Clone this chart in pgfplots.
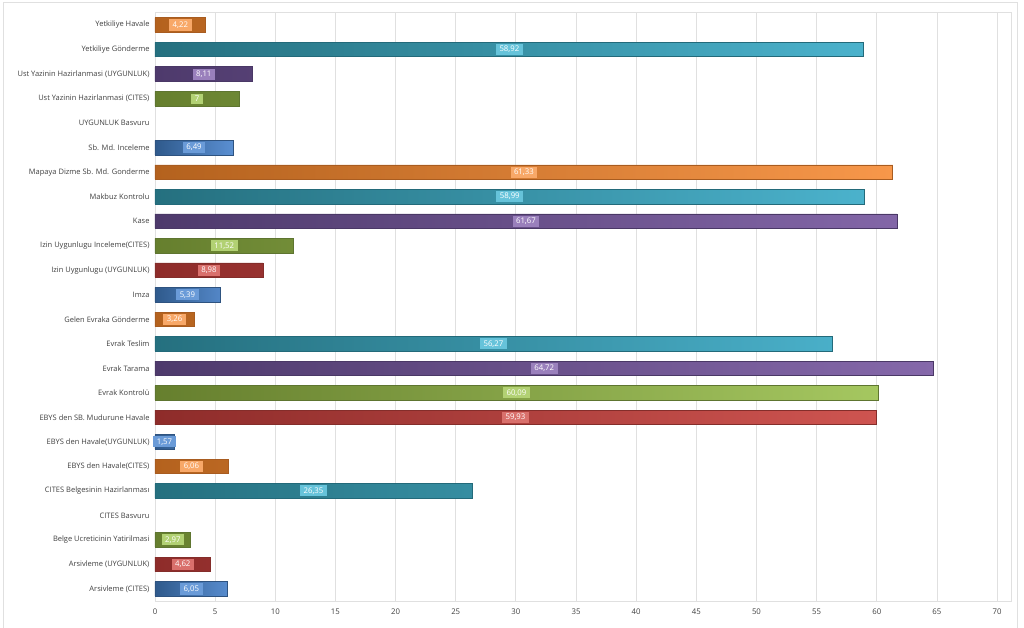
\documentclass[border=0pt]{standalone}
\usepackage{pgfplots}
\usepackage{pgfplotstable}
\pgfplotsset{compat=1.18}
\usepackage{fontspec}
\setmainfont{Open Sans}

\definecolor{bD}{HTML}{2F5A8C}\definecolor{bL}{HTML}{5A8FD2}\definecolor{bB}{HTML}{2E5380}\definecolor{bT}{HTML}{6A9BD8}
\definecolor{rD}{HTML}{8E2C2A}\definecolor{rL}{HTML}{CE5450}\definecolor{rB}{HTML}{842D2A}\definecolor{rT}{HTML}{D9706C}
\definecolor{gD}{HTML}{667F2E}\definecolor{gL}{HTML}{A5C760}\definecolor{gB}{HTML}{5E7530}\definecolor{gT}{HTML}{B2D173}
\definecolor{pD}{HTML}{4E3A6C}\definecolor{pL}{HTML}{8568AA}\definecolor{pB}{HTML}{4A3866}\definecolor{pT}{HTML}{9A80BC}
\definecolor{tD}{HTML}{25707F}\definecolor{tL}{HTML}{4BB2CC}\definecolor{tB}{HTML}{236A7A}\definecolor{tT}{HTML}{66C3DA}
\definecolor{oD}{HTML}{B4621E}\definecolor{oL}{HTML}{F7974A}\definecolor{oB}{HTML}{A85C20}\definecolor{oT}{HTML}{F8A868}
\definecolor{gridc}{HTML}{E0E0E0}
\definecolor{txt}{HTML}{404040}

% series grouped by colour (y = category index, 0 = bottom)
\pgfplotstableread{
y v
0 6.05
6 1.57
12 5.39
18 6.49
}\tblblue
\pgfplotstableread{
y v
1 4.62
7 59.93
13 8.98
}\tblred
\pgfplotstableread{
y v
2 2.97
8 60.09
14 11.52
20 7
}\tblgreen
\pgfplotstableread{
y v
9 64.72
15 61.67
21 8.11
}\tblpurple
\pgfplotstableread{
y v
4 26.35
10 56.27
16 58.99
22 58.92
}\tblteal
\pgfplotstableread{
y v
5 6.06
11 3.26
17 61.33
23 4.22
}\tblorange

\pgfplotsset{
  mybar/.style n args={3}{xbar, bar width=14.5pt, bar shift=0pt, draw=#1, line width=0.6pt, left color=#2, right color=#3},
  mylab/.style={draw=none, mark=none, forget plot, nodes near coords, point meta=explicit,
    nodes near coords align={center},
    every node near coord/.append style={fill=#1, text=white, font=\fontsize{7.8}{9}\selectfont, inner xsep=3.5pt, inner ysep=2.2pt, anchor=center}},
}

\begin{document}
\begin{tikzpicture}[x=1pt,y=1pt]
\useasboundingbox (-155,-26) rectangle (869,601);
\draw[gridc, line width=0.8pt] (-152,-30) -- (-152,599) -- (862,599) -- (862,-30);
\begin{axis}[
  at={(0,0)}, anchor=south west,
  scale only axis, width=856pt, height=589pt,
  xmin=0, xmax=71.16, ymin=-0.49, ymax=23.53,
  xtick={0,5,...,70},
  ytick={0,...,23},
  yticklabels={Arsivleme (CITES),Arsivleme (UYGUNLUK),Belge Ucreticinin Yatirilmasi,CITES Basvuru,CITES Belgesinin Hazirlanması,EBYS den Havale(CITES),EBYS den Havale(UYGUNLUK),EBYS den SB. Mudurune Havale,Evrak Kontrolü,Evrak Tarama,Evrak Teslim,Gelen Evraka Gönderme,Imza,Izin Uygunlugu (UYGUNLUK),Izin Uygunlugu Inceleme(CITES),Kase,Makbuz Kontrolu,Mapaya Dizme Sb. Md. Gonderme,Sb. Md. Inceleme,UYGUNLUK Basvuru,Ust Yazinin Hazirlanmasi (CITES),Ust Yazinin Hazirlanmasi (UYGUNLUK),Yetkiliye Gönderme,Yetkiliye Havale},
  xmajorgrids, major grid style={gridc, line width=0.8pt},
  axis line style={gridc, line width=0.8pt},
  major tick length=0pt,
  tick label style={text=txt},
  yticklabel style={font=\fontsize{7.5}{9}\selectfont, xshift=-2pt},
  xticklabel style={font=\fontsize{7.8}{9}\selectfont, yshift=-4pt},
  /pgf/number format/assume math mode=true,
  /pgf/number format/use comma,
  /pgf/number format/1000 sep={},
  clip=false,
]
\addplot[mybar={bB}{bD}{bL}] table[x=v,y=y] {\tblblue};
\addplot[mybar={rB}{rD}{rL}] table[x=v,y=y] {\tblred};
\addplot[mybar={gB}{gD}{gL}] table[x=v,y=y] {\tblgreen};
\addplot[mybar={pB}{pD}{pL}] table[x=v,y=y] {\tblpurple};
\addplot[mybar={tB}{tD}{tL}] table[x=v,y=y] {\tblteal};
\addplot[mybar={oB}{oD}{oL}] table[x=v,y=y] {\tblorange};

\addplot[mylab=bT] table[x expr=\thisrow{v}/2,y=y,meta=v] {\tblblue};
\addplot[mylab=rT] table[x expr=\thisrow{v}/2,y=y,meta=v] {\tblred};
\addplot[mylab=gT] table[x expr=\thisrow{v}/2,y=y,meta=v] {\tblgreen};
\addplot[mylab=pT] table[x expr=\thisrow{v}/2,y=y,meta=v] {\tblpurple};
\addplot[mylab=tT] table[x expr=\thisrow{v}/2,y=y,meta=v] {\tblteal};
\addplot[mylab=oT] table[x expr=\thisrow{v}/2,y=y,meta=v] {\tblorange};
\end{axis}
\end{tikzpicture}
\end{document}
